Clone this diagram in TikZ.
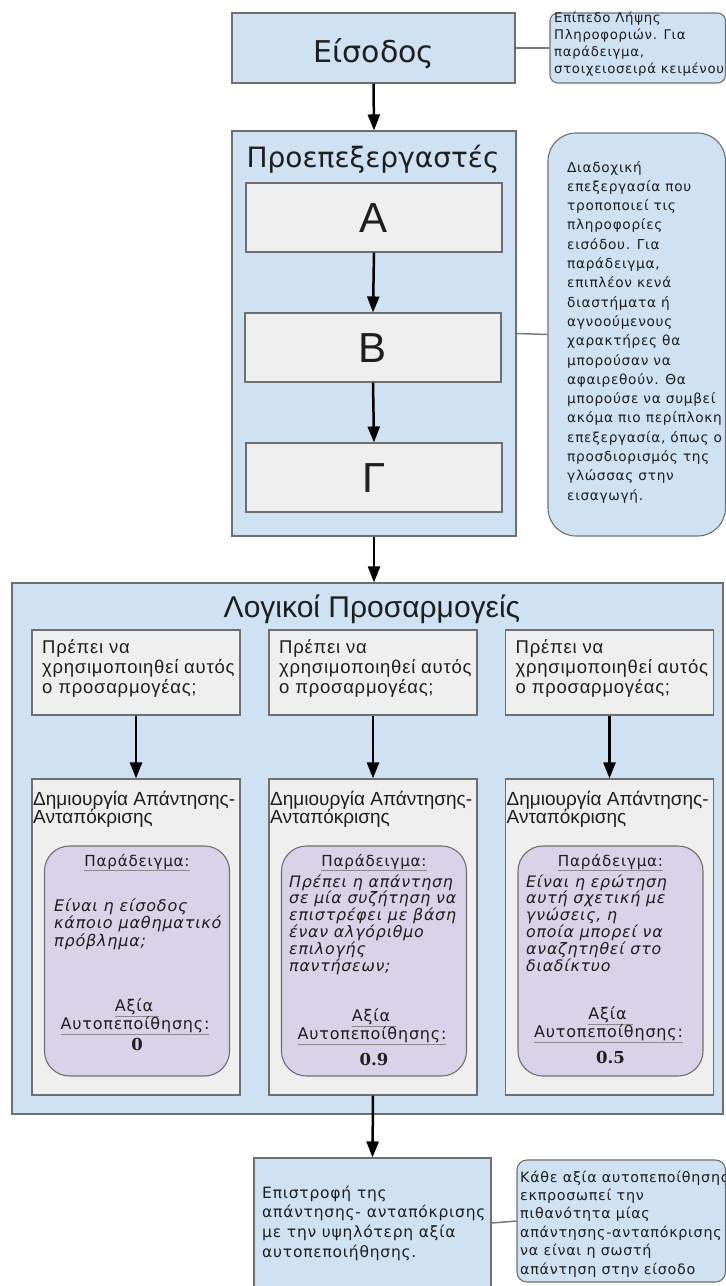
\documentclass[tikz,border=0pt]{standalone}
\usepackage{fontspec}
\setmainfont{DejaVu Sans}
\newfontfamily\dvt{DejaVu Sans}
\newfontfamily\dvs{DejaVu Sans}[LetterSpace=5]
\newfontfamily\lib{Liberation Sans}
\newfontfamily\libs{Liberation Sans}[LetterSpace=4]
\newfontfamily\dser{DejaVu Serif}
\usetikzlibrary{arrows.meta}
\definecolor{bluec}{HTML}{CFE2F3}
\definecolor{grayc}{HTML}{EFEFEF}
\definecolor{purc}{HTML}{D9D2E9}
\definecolor{bordc}{HTML}{6F6F6F}
\definecolor{linkc}{HTML}{7A7A7A}
\definecolor{txtc}{HTML}{1E1E1E}
\definecolor{ulc}{HTML}{8A8A8A}
\newcommand{\fsz}[2]{\fontsize{#1}{#2}\selectfont}
\newcommand{\myul}[1]{{\color{ulc}\underline{\textcolor{txtc}{#1}}}}
\tikzset{
  box/.style={draw=bordc, line width=1.1pt, inner sep=0pt},
  bluebox/.style={box, fill=bluec},
  graybox/.style={box, fill=grayc},
  purbox/.style={box, fill=purc, rounded corners=25pt},
  notebox/.style={box, fill=bluec},
  arr/.style={-{Triangle[width=12pt,length=16pt]}, line width=2.5pt, black},
  link/.style={draw=linkc, line width=1.5pt},
  tl/.style={inner sep=0pt, anchor=base west, text=txtc},
  tc/.style={inner sep=0pt, anchor=base, text=txtc},
}
\begin{document}
\begin{tikzpicture}[x=1pt,y=-1pt]
\useasboundingbox (0,0) rectangle (726,1286);
\clip (0,0) rectangle (726,1286);
\fill[white] (0,0) rectangle (726,1286);

% ---- top: input
\node[bluebox, minimum width=283pt, minimum height=70pt] (in) at (373.5,48) {};
\node[tc, font=\dvt\fsz{30}{36}] (intxt) at (374,62) {Είσοδος};
\node[notebox, rounded corners=8pt, minimum width=175.5pt, minimum height=70pt] (note1) at (637.75,48) {};
\foreach \t [count=\i] in {Επίπεδο Λήψης, Πληροφοριών. Για, {παράδειγμα,}, στοιχειοσειρά κειμένου}
  \node[tl, font=\dvs\fsz{13.3}{15}, name=n1-\i] at (554,{22+(\i-1)*17}) {\t};

% ---- preprocessors
\node[bluebox, minimum width=284pt, minimum height=405pt] (pre) at (374,333.5) {};
\node[tc, font=\dvt\fsz{28}{34}] (pretxt) at (373,167) {Προεπεξεργαστές};
\node[graybox, minimum width=256pt, minimum height=69pt] (A) at (374,217.5) {};
\node[graybox, minimum width=256pt, minimum height=69pt] (B) at (373,347.5) {};
\node[graybox, minimum width=256pt, minimum height=69pt] (G) at (374,477.5) {};
\node[tc, font=\lib\fsz{42}{48}] (Atxt) at (374,232.5) {A};
\node[tc, font=\lib\fsz{42}{48}] (Btxt) at (373,362.5) {B};
\node[tc, font=\lib\fsz{42}{48}] (Gtxt) at (374,492.5) {Γ};
\node[notebox, rounded corners=28pt, minimum width=177.5pt, minimum height=403pt] (note2) at (636.75,334.5) {};
\foreach \t [count=\i] in {Διαδοχική, επεξεργασία που, τροποποιεί τις, πληροφορίες, εισόδου. Για, {παράδειγμα,}, επιπλέον κενά, διαστήματα ή, αγνοούμενους, χαρακτήρες θα, μπορούσαν να, αφαιρεθούν. Θα, μπορούσε να συμβεί, ακόμα πιο περίπλοκη, {επεξεργασία, όπως ο}, προσδιορισμός της, γλώσσας στην, εισαγωγή.}
  \node[tl, font=\dvs\fsz{13.7}{16}, name=n2-\i] at (567,{172+(\i-1)*19.3}) {\t};

% ---- logic adapters
\node[bluebox, minimum width=711pt, minimum height=531pt] (logic) at (367.5,848.5) {};
\node[tc, font=\lib\fsz{30}{36}] (logtxt) at (372,617) {Λογικοί Προσαρμογείς};
\foreach \k/\cx in {1/136, 2/373, 3/609.5} {
  \node[graybox, minimum width=208pt, minimum height=85pt] (q\k) at (\cx,672.5) {};
  \node[graybox, minimum width=208pt, minimum height=316pt] (g\k) at (\cx,937) {};
  \node[tl, font=\libs\fsz{18.5}{22}] (q\k a) at ({\cx-94},653) {Πρέπει να};
  \node[tl, font=\libs\fsz{18.5}{22}] (q\k b) at ({\cx-94},673) {χρησιμοποιηθεί αυτός};
  \node[tl, font=\libs\fsz{18.5}{22}] (q\k c) at ({\cx-94},693) {ο προσαρμογέας;};
  \node[tl, font=\lib\fsz{19}{22}] (g\k a) at ({\cx-103},805) {Δημιουργία Απάντησης-};
  \node[tl, font=\lib\fsz{19}{22}] (g\k b) at ({\cx-103},823) {Ανταπόκρισης};
  \node[purbox, minimum width=185pt, minimum height=230pt] (p\k) at ({\cx+1},961) {};
  \node[tc, font=\dvs\fsz{15.2}{18}] (p\k h) at ({\cx+1},866) {\myul{Παράδειγμα:}};
}
% purple box 1
\foreach \t [count=\i] in {Είναι η είσοδος, κάποιο μαθηματικό, πρόβλημα;}
  \node[tl, font=\dvs\itshape\fsz{16}{18}, name=p1-\i] at (54,{911+(\i-1)*17.5}) {\t};
\node[tc, font=\dvs\fsz{16}{18}] (p1v) at (137,1011) {\myul{Αξία\ }};
\node[tc, font=\dvs\fsz{16}{18}] (p1w) at (135,1029) {\myul{Αυτοπεποίθησης:}};
\node[tc, font=\dser\bfseries\fsz{16.5}{18}] (p1n) at (137,1050) {0};
% purple box 2
\foreach \t [count=\i] in {Πρέπει η απάντηση, σε μία συζήτηση να, επιστρέφει με βάση, έναν αλγόριθμο, επιλογής, παντήσεων;}
  \node[tl, font=\dvs\itshape\fsz{15.8}{18}, name=p2-\i] at (289,{887+(\i-1)*16.9}) {\t};
\node[tc, font=\dvs\fsz{16}{18}] (p2v) at (374,1021) {\myul{Αξία\ }};
\node[tc, font=\dvs\fsz{16}{18}] (p2w) at (372,1039) {\myul{Αυτοπεποίθησης:}};
\node[tc, font=\dser\bfseries\fsz{16.5}{18}] (p2n) at (374,1065) {0.9};
% purple box 3
\foreach \t [count=\i] in {Είναι η ερώτηση, αυτή σχετική με, {γνώσεις, η}, οποία μπορεί να, αναζητηθεί στο, διαδίκτυο}
  \node[tl, font=\dvs\itshape\fsz{15.8}{18}, name=p3-\i] at (526,{887+(\i-1)*16.9}) {\t};
\node[tc, font=\dvs\fsz{16}{18}] (p3v) at (610.5,1019) {\myul{Αξία\ }};
\node[tc, font=\dvs\fsz{16}{18}] (p3w) at (608.5,1037) {\myul{Αυτοπεποίθησης:}};
\node[tc, font=\dser\bfseries\fsz{16.5}{18}] (p3n) at (610.5,1063) {0.5};

% ---- final
\node[bluebox, minimum width=237pt, minimum height=130pt] (fin) at (372.5,1223) {};
\foreach \t [count=\i] in {Επιστροφή της, απάντησης- ανταπόκρισης, με την υψηλότερη αξία, αυτοπεποιήθησης.}
  \node[tl, font=\dvs\fsz{15.5}{17}, name=f-\i] at (262,{1198+(\i-1)*19.8}) {\t};
\node[notebox, rounded corners=10pt, minimum width=208.5pt, minimum height=122pt] (note3) at (621.25,1221) {};
\foreach \t [count=\i] in {Κάθε αξία αυτοπεποίθησης, εκπροσωπεί την, πιθανότητα μίας, απάντησης-ανταπόκρισης, να είναι η σωστή, απάντηση στην είσοδο}
  \node[tl, font=\dvs\fsz{14.3}{16}, name=n3-\i] at (520,{1182+(\i-1)*18.4}) {\t};

% ---- connectors
\draw[arr] (in.south) -- (pre.north);
\draw[arr] (A.south) -- (B.north);
\draw[arr] (B.south) -- (G.north);
\draw[arr] (pre.south) -- (pre.south |- logic.north);
\foreach \k in {1,2,3} \draw[arr] (q\k.south) -- (g\k.north);
\draw[arr] (g2.south) -- (fin.north);
\draw[link] (in.east) -- (note1.west);
\draw[link] (pre.east) -- (note2.west);
\draw[link] (fin.east) -- (note3.west);
\end{tikzpicture}
\end{document}
